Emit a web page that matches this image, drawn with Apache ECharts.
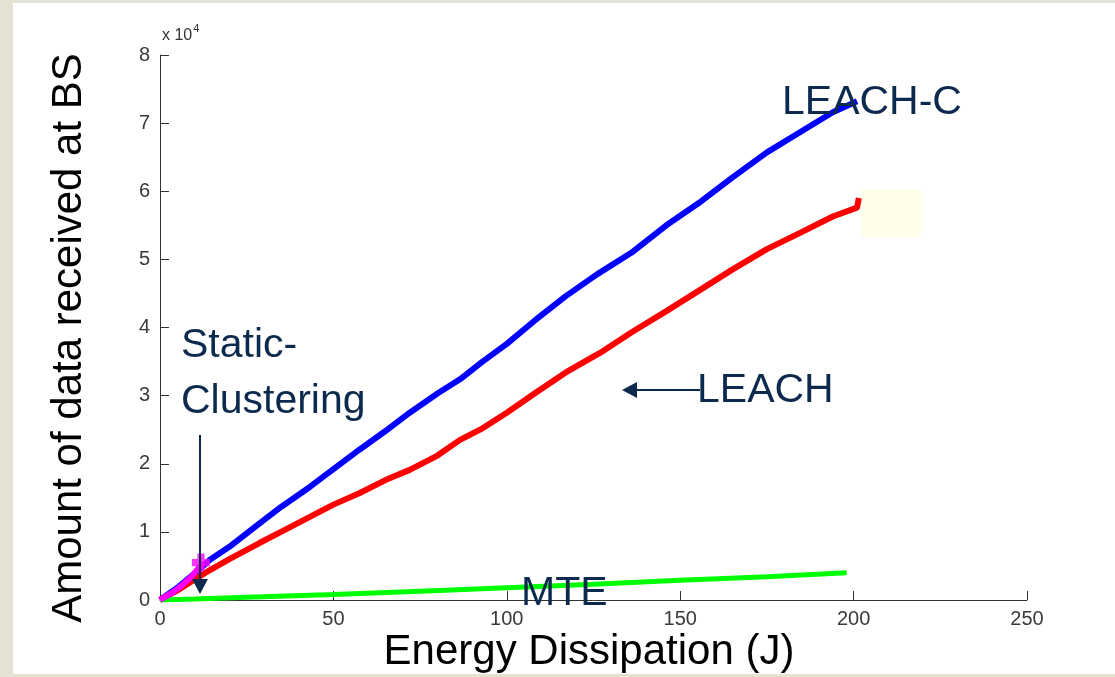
<!DOCTYPE html>
<html>
<head>
<meta charset="utf-8">
<style>
  html, body { margin: 0; padding: 0; background: #e4e3d3; }
  #chart { width: 1115px; height: 677px; }
</style>
<script src="https://cdn.jsdelivr.net/npm/echarts@6/dist/echarts.min.js"></script>
</head>
<body>
<div id="chart"></div>
<script>
// values, x in J, y in packets
var leachC = [
    [0, 0], [5, 1800], [10, 3900], [14.4, 5900], [20, 7800], [28.8, 11300], [35, 13700],
    [43.2, 16600], [50, 19200], [57.6, 22100], [65, 24800], [72, 27500], [80, 30300],
    [86.5, 32400], [93, 35000], [100, 37600], [108, 41000], [117, 44600], [126, 47800],
    [136, 51000], [146, 55000], [156, 58500], [165, 62000], [175, 65700], [185, 68800],
    [194, 71600], [201, 73200]
];
var leach = [
    [0, 0], [5, 1400], [10, 3000], [14.4, 4400], [20, 6000], [28.8, 8400], [36, 10300],
    [43.2, 12200], [50, 14000], [57.6, 15700], [65, 17600], [72, 19100], [80, 21200],
    [86.5, 23500], [93, 25200], [100, 27500], [108, 30300], [117, 33400], [127, 36300],
    [136, 39300], [146, 42400], [156, 45600], [165, 48500], [175, 51500], [185, 54000],
    [194, 56300], [201, 57600], [201.5, 59000]
];
var mte = [
    [0, 0], [10, 150], [25, 400], [50, 800], [75, 1300], [100, 1800],
    [125, 2300], [150, 2900], [175, 3400], [198, 4000]
];
var staticClustering = [[0, 0], [3, 900], [6, 2000], [9, 3400], [11, 4600], [12.5, 5400]];
var staticMark = [[11.8, 5500]];

var xTicks = { min: 0, max: 250, step: 50 };
var yTicks = { min: 0, max: 80000, step: 10000, scale: 10000 };

var dom = document.getElementById('chart');
var myChart = echarts.init(dom, null, { renderer: 'canvas' });

var navy = '#0b2a4d';
var bigFont = '41px "Liberation Sans", Arial, sans-serif';

var option = {
    backgroundColor: '#e4e3d3',
    animation: false,
    grid: { left: 160, right: 88, top: 55, bottom: 77 },
    xAxis: {
        type: 'value',
        min: xTicks.min,
        max: xTicks.max,
        interval: xTicks.step,
        axisLine: { lineStyle: { color: '#333', width: 1 } },
        axisTick: { inside: true, length: 9, lineStyle: { color: '#333' } },
        axisLabel: {
            color: '#3a3a3a',
            fontSize: 20,
            fontFamily: 'Liberation Sans, Arial, sans-serif',
            margin: 9
        },
        splitLine: { show: false }
    },
    yAxis: {
        type: 'value',
        min: yTicks.min,
        max: yTicks.max,
        interval: yTicks.step,
        axisLine: { show: true, lineStyle: { color: '#333', width: 1 } },
        axisTick: { show: true, inside: true, length: 9, lineStyle: { color: '#333' } },
        axisLabel: {
            color: '#3a3a3a',
            fontSize: 20,
            fontFamily: 'Liberation Sans, Arial, sans-serif',
            margin: 10,
            formatter: function (v) { return v / yTicks.scale; }
        },
        splitLine: { show: false }
    },
    graphic: [
        { type: 'rect', z: -10, shape: { x: 13, y: 3, width: 1102, height: 671 }, style: { fill: '#ffffff' } },
        { type: 'rect', z: 0, shape: { x: 861, y: 189, width: 60, height: 48 }, style: { fill: '#fffeea' } },
        {
            type: 'text', x: 162, y: 44,
            style: {
                text: '{b|x 10}{s|4}',
                rich: {
                    b: { fontSize: 16, fill: '#333', fontFamily: 'Liberation Sans, Arial', verticalAlign: 'bottom' },
                    s: { fontSize: 11, fill: '#333', fontFamily: 'Liberation Sans, Arial', verticalAlign: 'top', padding: [0, 0, 10, 1] }
                },
                verticalAlign: 'bottom'
            }
        },
        {
            type: 'text', x: 69, y: 338, rotation: Math.PI / 2,
            style: { text: 'Amount of data received at BS', font: '42px "Liberation Sans", Arial, sans-serif', fill: '#000', align: 'center', verticalAlign: 'middle' }
        },
        {
            type: 'text', x: 589, y: 652,
            style: { text: 'Energy Dissipation (J)', font: '42px "Liberation Sans", Arial, sans-serif', fill: '#000', align: 'center', verticalAlign: 'middle' }
        },
        { type: 'text', x: 782, y: 103, z: 10, style: { text: 'LEACH-C', font: bigFont, fill: navy, align: 'left', verticalAlign: 'middle' } },
        { type: 'text', x: 697, y: 391, z: 10, style: { text: 'LEACH', font: bigFont, fill: navy, align: 'left', verticalAlign: 'middle' } },
        { type: 'text', x: 521, y: 594, z: 10, style: { text: 'MTE', font: bigFont, fill: navy, align: 'left', verticalAlign: 'middle' } },
        { type: 'text', x: 181, y: 346, z: 10, style: { text: 'Static-', font: bigFont, fill: navy, align: 'left', verticalAlign: 'middle' } },
        { type: 'text', x: 181, y: 402, z: 10, style: { text: 'Clustering', font: bigFont, fill: navy, align: 'left', verticalAlign: 'middle' } },
        { type: 'line', z: 10, shape: { x1: 200, y1: 435, x2: 200, y2: 582 }, style: { stroke: navy, lineWidth: 2 } },
        { type: 'polygon', z: 10, shape: { points: [[192, 579], [208, 579], [200, 594]] }, style: { fill: navy } },
        { type: 'line', z: 10, shape: { x1: 700, y1: 390, x2: 634, y2: 390 }, style: { stroke: navy, lineWidth: 2 } },
        { type: 'polygon', z: 10, shape: { points: [[622, 390], [637, 382], [637, 398]] }, style: { fill: navy } }
    ],
    series: [
        {
            name: 'LEACH-C', type: 'line', data: leachC, symbol: 'none',
            lineStyle: { color: '#0000ff', width: 6 }, z: 2
        },
        {
            name: 'LEACH', type: 'line', data: leach, symbol: 'none',
            lineStyle: { color: '#ff0000', width: 6 }, z: 3
        },
        {
            name: 'MTE', type: 'line', data: mte, symbol: 'none',
            lineStyle: { color: '#00ff00', width: 5 }, z: 3
        },
        {
            name: 'Static-Clustering', type: 'line', data: staticClustering, symbol: 'none',
            lineStyle: { color: '#ff00ff', width: 6 }, z: 4
        },
        {
            name: 'Static-Clustering end', type: 'scatter', data: staticMark,
            symbol: 'path://M3,0H7V3H10V7H7V10H3V7H0V3H3Z', symbolSize: 18,
            itemStyle: { color: '#ff00ff' }, z: 5
        }
    ]
};

if (option && typeof option === 'object') {
    myChart.setOption(option);
}

window.addEventListener('resize', myChart.resize);
</script>
</body>
</html>
